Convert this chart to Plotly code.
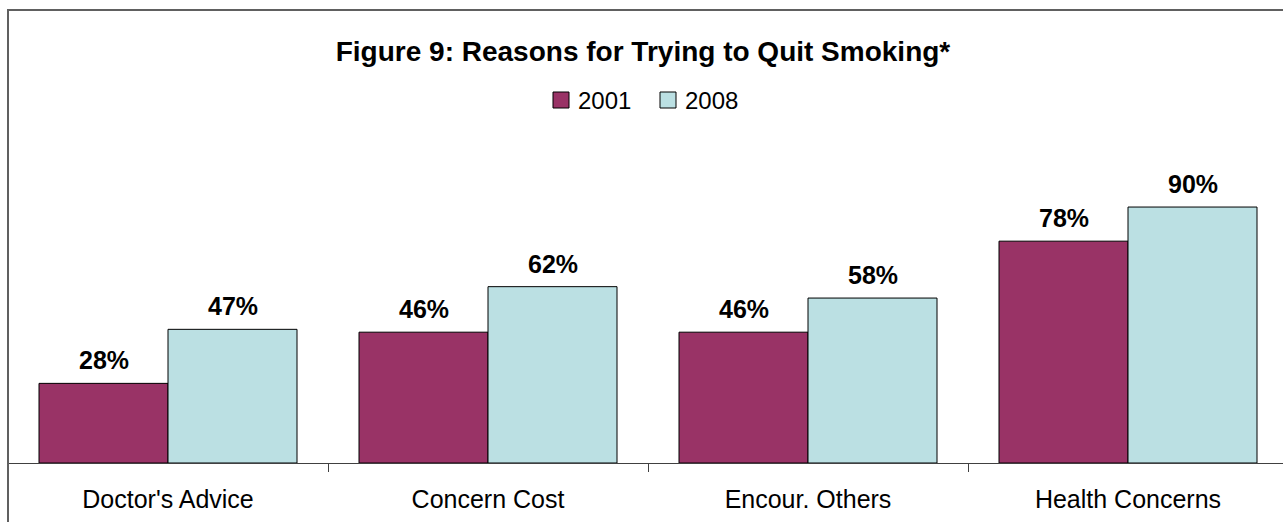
import plotly.graph_objects as go

categories = ["Doctor's Advice", "Concern Cost", "Encour. Others", "Health Concerns"]
values_2001 = [28, 46, 46, 78]
values_2008 = [47, 62, 58, 90]
series_names = ["2001", "2008"]

W, H = 1283, 522
ml, mr, mt, mb = 8, 0, 179, 59
plot_h = H - mt - mb
plot_w = W - ml - mr
cat_px = 320.0
bar_px = 129.0
FONT = "Liberation Sans, Arial"

def py(pix):  # pixel y from top -> paper y
    return (H - mb - pix) / plot_h

def px(pix):
    return (pix - ml) / plot_w

fig = go.Figure()
colors = ["#993366", "#BBE0E3"]
annotations = []
for i, (name, vals, col) in enumerate(zip(series_names, [values_2001, values_2008], colors)):
    fig.add_trace(go.Bar(
        x=categories, y=vals, name=name, showlegend=False,
        marker=dict(color=col, line=dict(color="#000000", width=1)),
        hoverinfo="x+y",
    ))
    shift = (-0.5 if i == 0 else 0.5) * bar_px
    for c, v in zip(categories, vals):
        annotations.append(dict(
            x=c, y=v, xref="x", yref="y", text=f"<b>{v}%</b>", showarrow=False,
            xshift=shift, yshift=7, yanchor="bottom", xanchor="center",
            font=dict(family=FONT, size=25, color="#000000")))

# legend (manual, Excel-style)
leg_items = [(553, 576), (660, 683)]
shapes = []
for (sx, tx), name, col in zip(leg_items, series_names, colors):
    shapes.append(dict(type="rect", xref="paper", yref="paper",
                       x0=px(sx), x1=px(sx + 16), y0=py(108), y1=py(92),
                       line=dict(color="#000000", width=1), fillcolor=col))
    annotations.append(dict(x=px(tx), y=py(100), xref="paper", yref="paper", text=name,
                            showarrow=False, xanchor="left", yanchor="middle",
                            font=dict(family=FONT, size=24, color="#000000")))

shapes.append(dict(type="rect", xref="paper", yref="paper",
                   x0=px(8), x1=px(1300), y0=py(540), y1=py(10),
                   line=dict(color="#606060", width=2), fillcolor="rgba(0,0,0,0)", layer="above"))

fig.update_layout(
    width=W, height=H,
    margin=dict(l=ml, r=mr, t=mt, b=mb, pad=0),
    paper_bgcolor="white", plot_bgcolor="white",
    barmode="group", bargap=1 - 2 * bar_px / cat_px, bargroupgap=0,
    title=dict(text="<b>Figure 9: Reasons for Trying to Quit Smoking*</b>",
               x=643 / W, xanchor="center", y=1 - 51 / H, yanchor="middle",
               font=dict(family=FONT, size=28, color="#000000")),
    showlegend=False,
    xaxis=dict(range=[-0.5, -0.5 + plot_w / cat_px], showgrid=False, zeroline=False,
               showline=True, linecolor="#404040", linewidth=1,
               ticks="outside", tickson="boundaries", ticklen=8, tickcolor="#404040",
               ticklabelstandoff=14,
               tickfont=dict(family=FONT, size=25, color="#000000"),
               fixedrange=True),
    yaxis=dict(range=[0, plot_h / 2.844], showgrid=False, zeroline=False, showline=False,
               showticklabels=False, ticks="", fixedrange=True),
    font=dict(family=FONT),
    annotations=annotations,
    shapes=shapes,
)

fig.write_html("out.html")
